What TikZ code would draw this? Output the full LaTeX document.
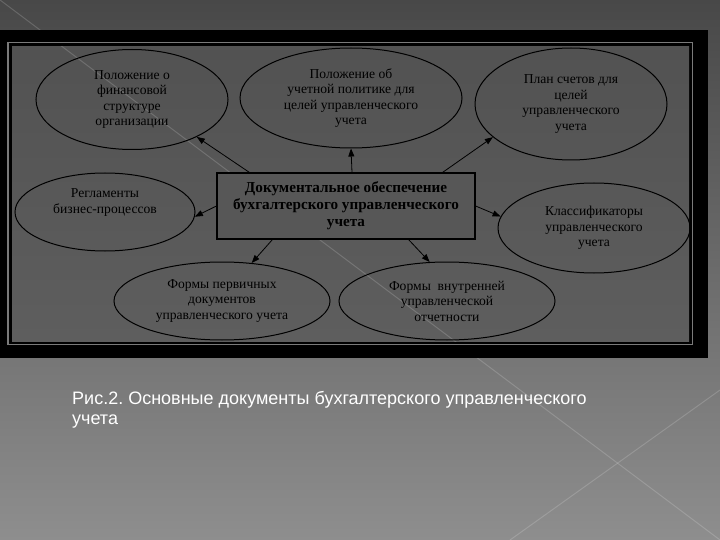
\documentclass[tikz,border=0pt]{standalone}
\usepackage{fontspec}
\setmainfont{Liberation Serif}
\newfontfamily\capfont{Liberation Sans}
\usetikzlibrary{shapes}
\usetikzlibrary{arrows.meta}
\frenchspacing
\definecolor{bgtop}{HTML}{484848}
\definecolor{bgmid}{HTML}{5E5E5E}
\definecolor{bgbot}{HTML}{8E8E8E}
\definecolor{paneltop}{HTML}{525252}
\definecolor{panelbot}{HTML}{5E5E5E}
\definecolor{panelgray}{HTML}{575757}
\definecolor{rimgray}{HTML}{7A7A7A}
\tikzset{
    ellnode/.style = {ellipse, draw=black, line width=1pt, inner sep=0pt, align=center, font=\fontsize{13.6}{15.5}\selectfont, text=black},
    boxnode/.style = {rectangle, draw=black, line width=1.2pt, align=center, fill=panelgray, font=\fontsize{15.2}{17}\selectfont\bfseries, text=black, minimum width=258pt, minimum height=66pt},
    edgea/.style = {-{Triangle[length=8pt,width=6pt]}, line width=0.8pt, black},
    diag/.style = {white, opacity=0.16, line width=1pt}, % slide decoration
    capnode/.style = {anchor=north west, inner sep=0pt, align=left, text=white, font=\capfont\fontsize{18}{20.5}\selectfont}
}
\begin{document}
\begin{tikzpicture}[x=1pt, y=-1pt]
  \useasboundingbox (0,0) rectangle (720,540);
  \shade[top color=bgtop, middle color=bgmid, bottom color=bgbot] (0,0) rectangle (720,540);
  \draw[diag] (0,0) -- (720,540);
  \draw[diag] (720,390) -- (510,540);
  % frame
  \fill[black] (0,30) rectangle (708,358);
  \draw[rimgray, line width=1.5pt] (8,42.5) rectangle (692.5,344.5);
  \shade[top color=paneltop, bottom color=panelbot] (12,47) rectangle (689,341);
  \begin{scope}
    \clip (12,47) rectangle (689,341);
    \draw[diag] (0,0) -- (720,540);
  \end{scope}

  \node[ellnode, minimum width=192pt, minimum height=100pt] (fin) at (132,99.5) {Положение о\\финансовой\\структуре\\организации};
  \node[ellnode, minimum width=222pt, minimum height=100pt] (pol) at (351,98) {Положение об\\учетной политике для\\целей управленческого\\учета};
  \node[ellnode, minimum width=192pt, minimum height=112pt] (plan) at (571,104) {План счетов для\\целей\\управленческого\\учета};
  \node[ellnode, minimum width=180pt, minimum height=78pt] (reg) at (105,212) {Регламенты\\бизнес-процессов\\[6pt]};
  \node[ellnode, minimum width=192pt, minimum height=90pt] (klass) at (594,228) {Классификаторы\\управленческого\\учета};
  \node[ellnode, minimum width=216pt, minimum height=78pt] (perv) at (222,301) {Формы первичных\\документов\\управленческого учета};
  \node[ellnode, minimum width=216pt, minimum height=78pt] (vnut) at (447,301) {Формы\ \ внутренней\\управленческой\\отчетности};

  \node[boxnode] (doc) at (346,206) {Документальное обеспечение\\бухгалтерского управленческого\\учета};

  \draw[edgea] ([xshift=33pt]doc.north west) -- (fin.-30);
  \draw[edgea] ([xshift=6pt]doc.north) -- (pol.-90);
  \draw[edgea] ([xshift=-33pt]doc.north east) -- (plan.203);
  \draw[edgea] (doc.west) -- (reg.-3);
  \draw[edgea] (doc.east) -- (klass.173);
  \draw[edgea] ([xshift=56pt]doc.south west) -- (perv.52);
  \draw[edgea] ([xshift=-67pt]doc.south east) -- (vnut.114);

  \node[capnode] (cap) at (72,391) {Рис.2. Основные документы бухгалтерского управленческого\\учета};
\end{tikzpicture}
\end{document}
